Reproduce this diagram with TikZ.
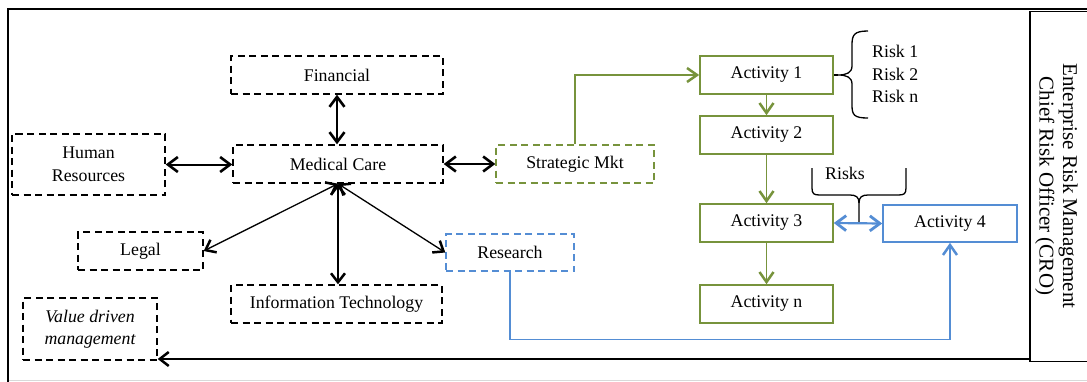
\documentclass[tikz,border=0pt]{standalone}
\usepackage{fontspec}
\setmainfont{Liberation Serif}
\usetikzlibrary{arrows.meta}
\definecolor{ogreen}{RGB}{119,147,60}
\definecolor{oblue}{RGB}{84,141,212}
\begin{document}
\begin{tikzpicture}[x=1pt,y=-1pt,
  font=\fontsize{17.8}{22.5}\selectfont,
  base/.style={inner sep=0pt, align=center, line width=1.4pt},
  dbox/.style={base, draw, dash pattern=on 7pt off 4.5pt},
  gdbox/.style={dbox, draw=ogreen},
  bdbox/.style={dbox, draw=oblue},
  gbox/.style={base, draw=ogreen, line width=1.6pt},
  bbox/.style={base, draw=oblue, line width=1.6pt},
  blkthick/.style={line width=2pt,
    {Straight Barb[length=10pt,width=15pt,line width=2.6pt]}-{Straight Barb[length=10pt,width=15pt,line width=2.6pt]}},
  blkthin/.style={line width=1.3pt,
    {Straight Barb[length=9pt,width=14pt,line width=2.5pt]}-{Straight Barb[length=9pt,width=14pt,line width=2.5pt]}},
  grn/.style={draw=ogreen, line width=1.6pt,
    -{Straight Barb[length=10pt,width=14pt,line width=2.5pt]}},
  blu/.style={draw=oblue, line width=1.4pt,
    -{Straight Barb[length=10pt,width=14pt,line width=2.5pt]}},
  bludbl/.style={draw=oblue, line width=2.2pt,
    {Straight Barb[length=10pt,width=15pt,line width=2.8pt]}-{Straight Barb[length=10pt,width=15pt,line width=2.8pt]}},
  brace/.style={line width=1.3pt}
]
\clip (0,0) rectangle (1087,381);
\fill[white] (0,0) rectangle (1087,381);

% page frame
\draw[black!15, line width=1pt] (8,380) -- (1087,380);
\draw[line width=2pt] (8,382) -- (8,8.5) -- (1087,8.5);

% side panel
\node[base, draw, line width=1.5pt, anchor=north west,
      minimum width=80pt, minimum height=350pt] (cro) at (1029,10.5) {};
\node[rotate=-90, align=center, font=\fontsize{21}{23.5}\selectfont]
  (crotext) at (1056.5,186) {Enterprise Risk Management\\Chief Risk Officer (CRO)};

% functional areas
\node[dbox, minimum width=212pt, minimum height=38pt] (fin)   at (337,75)    {Financial};
\node[dbox, minimum width=210pt, minimum height=38pt] (med)   at (338,164)   {Medical Care};
\node[dbox, minimum width=153pt, minimum height=61pt] (hr)    at (88.5,164.5) {Human\\Resources};
\node[dbox, minimum width=125pt, minimum height=38pt] (legal) at (140.5,251) {Legal};
\node[dbox, minimum width=211pt, minimum height=38pt] (it)    at (336.5,304) {Information Technology};
\node[dbox, minimum width=134pt, minimum height=62pt, font=\fontsize{17.8}{22.5}\selectfont\itshape]
      (vdm) at (90,329) {Value driven\\management};
\node[gdbox, minimum width=158pt, minimum height=38pt] (smkt) at (575,164)   {Strategic Mkt};
\node[bdbox, minimum width=128pt, minimum height=37pt] (res)  at (510,252.5) {Research};

% activities
\node[gbox, minimum width=133pt, minimum height=38pt] (a1) at (766.5,75)  {Activity 1};
\node[gbox, minimum width=133pt, minimum height=38pt] (a2) at (766.5,135) {Activity 2};
\node[gbox, minimum width=133pt, minimum height=38pt] (a3) at (766.5,223) {Activity 3};
\node[gbox, minimum width=133pt, minimum height=38pt] (an) at (766.5,304) {Activity n};
\node[bbox, minimum width=134pt, minimum height=37pt] (a4) at (950,223.5) {Activity 4};

% risk labels
\node[anchor=west, align=left, inner sep=0pt] (risklist) at (872,74) {Risk 1\\Risk 2\\Risk n};
\node[inner sep=0pt] (risks) at (845,173) {Risks};

% brace beside Activity 1
\coordinate (btip) at (838,75);
\draw[brace] (a1.east) -- (btip);
\draw[brace] (868,31) .. controls (854,31) and (852,35) .. (852,45) -- (852,66)
  .. controls (852,73) and (846,75) .. (btip)
  .. controls (846,75) and (852,77) .. (852,84) -- (852,105)
  .. controls (852,115) and (854,118) .. (868,118);

% brace above the Activity 3 / Activity 4 link
\coordinate (rtip) at (859,223);
\draw[brace] (812,168) -- (812,188) .. controls (812,194) and (814,195) .. (820,195) -- (850,195)
  .. controls (856,195) and (859,197) .. (859,203) -- (rtip);
\draw[brace] (859,203) .. controls (859,197) and (862,195) .. (868,195) -- (898,195)
  .. controls (904,195) and (906,194) .. (906,188) -- (906,168);

% links around Medical Care
\draw[blkthick] (fin.south) -- (fin.south |- med.north);
\draw[blkthick] (hr.east) -- (hr.east -| med.west);
\draw[blkthick] (med.east) -- (smkt.west);
\draw[blkthin] (med.south) -- (legal.east);
\draw[blkthin] (med.south) -- (med.south |- it.north);
\draw[blkthin] (med.south) -- (res.west);

% activity flow
\draw[grn] (smkt.north) |- (a1.west);
\draw[grn] (a1.south) -- (a2.north);
\draw[grn] (a2.south) -- (a3.north);
\draw[grn] (a3.south) -- (an.north);
\draw[blu] (res.south) -- ++(0,68) -| (a4.south);
\draw[bludbl] (a3.east) -- (a4.west);

% feedback to value driven management
\coordinate (cb) at ([yshift=3pt]cro.south west);
\draw[line width=1.4pt, -{Straight Barb[length=9pt,width=14pt,line width=2.5pt]}]
  (cb) -- (cb -| vdm.east);
\end{tikzpicture}
\end{document}
